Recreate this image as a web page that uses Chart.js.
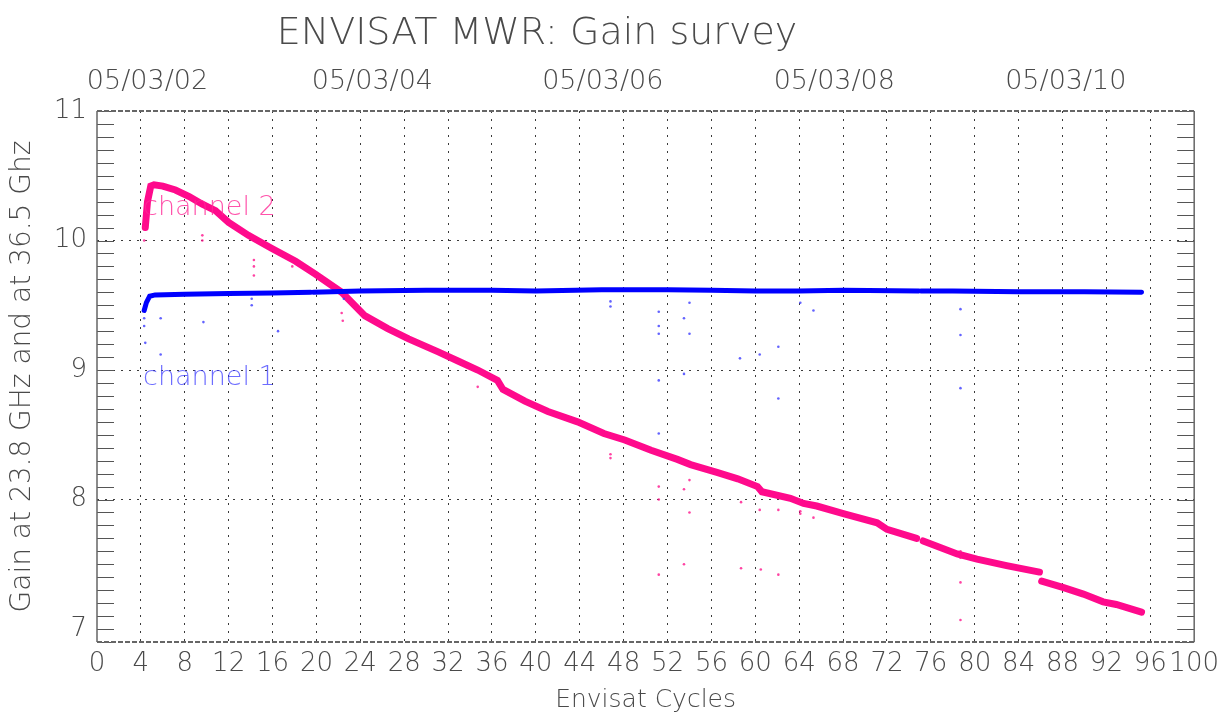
<!DOCTYPE html>
<html>
<head>
<meta charset="utf-8">
<title>ENVISAT MWR: Gain survey</title>
<script src="https://cdn.jsdelivr.net/npm/chart.js@4.4.1/dist/chart.umd.min.js"></script>
<style>
  html, body { margin: 0; padding: 0; background: #fff; }
  #gainChart { display: block; }
</style>
</head>
<body>
<canvas id="gainChart" width="1226" height="716"></canvas>
<script>
// channel 2 (36.5 GHz), main trace, null = missing cycles
var ch2Cycle = [4.4, 4.6, 4.9, 5.2, 6.0, 7.15, 8.4, 9.6, 10.8, 12.0, 13.8, 15.9, 18.1, 19.9, 22.3, 24.4, 26.5, 28.4, 31.1, 32.9, 34.7, 36.5, 37.0, 39.0, 41.1, 43.8, 46.2, 48.1, 50.5, 52.9, 54.1, 56.5, 58.4, 60.2, 60.6, 63.2, 64.4, 65.6, 68.1, 71.1, 72.0, 74.7, 75.0, 75.3, 78.4, 80.2, 82.9, 85.9, 86.0, 86.1, 88.1, 89.9, 91.7, 92.9, 95.2];
var ch2Gain = [10.10, 10.30, 10.42, 10.43, 10.42, 10.39, 10.34, 10.28, 10.23, 10.14, 10.04, 9.94, 9.84, 9.74, 9.60, 9.42, 9.32, 9.24, 9.14, 9.07, 9.00, 8.92, 8.85, 8.76, 8.68, 8.60, 8.51, 8.46, 8.38, 8.31, 8.27, 8.21, 8.16, 8.10, 8.06, 8.01, 7.97, 7.95, 7.89, 7.82, 7.77, 7.70, null, 7.68, 7.58, 7.54, 7.49, 7.44, null, 7.37, 7.32, 7.27, 7.21, 7.19, 7.13];

// channel 1 (23.8 GHz), main trace
var ch1Cycle = [4.3, 4.5, 4.8, 5.3, 8.0, 12.0, 16.0, 19.5, 19.6, 19.7, 24.0, 30.0, 36.0, 40.0, 46.0, 52.0, 56.0, 60.0, 64.0, 68.0, 74.9, 75.0, 75.1, 78.0, 84.0, 90.0, 95.2];
var ch1Gain = [9.46, 9.52, 9.57, 9.58, 9.585, 9.59, 9.595, 9.60, null, 9.60, 9.61, 9.615, 9.615, 9.61, 9.62, 9.62, 9.615, 9.61, 9.61, 9.615, 9.61, null, 9.61, 9.61, 9.605, 9.605, 9.60];

// isolated outlier samples
var ch1OutCycle = [4.3, 4.3, 4.4, 5.8, 5.8, 9.7, 14.1, 14.1, 16.5, 22.5, 46.8, 46.8, 51.2, 51.2, 51.2, 51.2, 51.2, 53.5, 54.0, 53.5, 54.0, 58.6, 60.4, 62.1, 62.1, 65.3, 64.1, 78.7, 78.7, 78.7];
var ch1OutGain = [9.40, 9.34, 9.21, 9.40, 9.12, 9.37, 9.55, 9.50, 9.30, 9.55, 9.49, 9.53, 9.45, 9.34, 9.28, 8.92, 8.51, 9.40, 9.28, 8.97, 9.52, 9.09, 9.12, 9.18, 8.78, 9.46, 9.52, 9.47, 9.27, 8.86];
var ch2OutCycle = [4.3, 4.3, 9.6, 9.6, 14.3, 14.3, 14.3, 17.8, 22.3, 22.4, 34.7, 46.8, 46.8, 51.2, 51.2, 53.5, 54.0, 54.0, 58.7, 60.4, 62.1, 64.1, 65.3, 64.1, 51.2, 53.5, 58.7, 60.5, 62.1, 78.7, 78.7, 78.7, 78.7];
var ch2OutGain = [10.10, 10.00, 10.04, 10.00, 9.85, 9.80, 9.73, 9.80, 9.44, 9.38, 8.87, 8.35, 8.32, 8.10, 8.00, 8.08, 8.15, 7.90, 7.98, 7.92, 7.92, 7.91, 7.86, 7.89, 7.42, 7.50, 7.47, 7.46, 7.42, 7.60, 7.55, 7.36, 7.07];

// axes
var yTicks = [7, 8, 9, 10, 11];
var dateCycles = [4.6, 25.1, 46.1, 67.2, 88.3];
var dateLabels = ['05/03/02', '05/03/04', '05/03/06', '05/03/08', '05/03/10'];

var PINK = '#ff0a8c';
var BLUE = '#0000ff';
var AXIS = '#4a4a4a';
var FONT = 'DejaVu Sans';
var WEIGHT = '200';

function toPoints(xs, ys) {
    var pts = [];
    for (var i = 0; i < xs.length; i++) {
        pts.push({x: xs[i], y: ys[i]});
    }
    return pts;
}

// frame, minor ticks, title and in-plot labels
var decor = {
    id: 'decor',
    afterDatasetsDraw: function (chart) {
        var ctx = chart.ctx;
        var a = chart.chartArea;
        var y = chart.scales.y;
        ctx.save();
        ctx.strokeStyle = '#555';
        ctx.lineWidth = 1;
        for (var i = 69; i <= 110; i++) {
            var py = Math.round(y.getPixelForValue(i / 10)) + 0.5;
            ctx.beginPath();
            ctx.moveTo(a.left, py);
            ctx.lineTo(a.left + 17, py);
            ctx.moveTo(a.right, py);
            ctx.lineTo(a.right - 17, py);
            ctx.stroke();
        }
        ctx.strokeStyle = '#666';
        ctx.lineWidth = 1.5;
        ctx.beginPath();
        ctx.moveTo(a.left, a.top);
        ctx.lineTo(a.left, a.bottom);
        ctx.moveTo(a.right, a.top);
        ctx.lineTo(a.right, a.bottom);
        ctx.stroke();
        ctx.setLineDash([5, 2]);
        ctx.lineWidth = 2;
        ctx.beginPath();
        ctx.moveTo(a.left, a.top);
        ctx.lineTo(a.right, a.top);
        ctx.moveTo(a.left, a.bottom);
        ctx.lineTo(a.right, a.bottom);
        ctx.stroke();
        ctx.restore();
    },
    afterDraw: function (chart) {
        var ctx = chart.ctx;
        var x = chart.scales.x;
        var y = chart.scales.y;
        ctx.save();
        ctx.fillStyle = AXIS;
        ctx.font = WEIGHT + ' 38px "' + FONT + '"';
        ctx.textAlign = 'center';
        ctx.textBaseline = 'middle';
        ctx.fillText('ENVISAT MWR: Gain survey', 537, 34);

        ctx.font = WEIGHT + ' 27px "' + FONT + '"';
        ctx.textAlign = 'left';
        ctx.fillStyle = 'rgba(255, 40, 150, 0.8)';
        ctx.fillText('channel 2', x.getPixelForValue(4.2), y.getPixelForValue(10.25));
        ctx.fillStyle = 'rgba(60, 60, 255, 0.75)';
        ctx.fillText('channel 1', x.getPixelForValue(4.2), y.getPixelForValue(8.94));
        ctx.restore();
    }
};

var ctx = document.getElementById('gainChart');
var gainChart = new Chart(ctx, {
    type: 'line',
    data: {
        datasets: [
            {
                label: 'channel 1 outliers',
                type: 'scatter',
                data: toPoints(ch1OutCycle, ch1OutGain),
                backgroundColor: 'rgba(60, 60, 255, 0.8)',
                borderWidth: 0,
                pointRadius: 1.3
            },
            {
                label: 'channel 2 outliers',
                type: 'scatter',
                data: toPoints(ch2OutCycle, ch2OutGain),
                backgroundColor: 'rgba(255, 20, 140, 0.8)',
                borderWidth: 0,
                pointRadius: 1.3
            },
            {
                label: 'channel 1',
                data: toPoints(ch1Cycle, ch1Gain),
                borderColor: BLUE,
                borderWidth: 5,
                pointRadius: 0,
                borderCapStyle: 'round',
                spanGaps: false,
                tension: 0
            },
            {
                label: 'channel 2',
                data: toPoints(ch2Cycle, ch2Gain),
                borderColor: PINK,
                borderWidth: 7,
                pointRadius: 0,
                borderCapStyle: 'round',
                spanGaps: false,
                tension: 0
            }
        ]
    },
    options: {
        responsive: false,
        animation: false,
        devicePixelRatio: 1,
        layout: {padding: {left: 0, right: 28, top: 0, bottom: 0}},
        plugins: {
            legend: {display: false},
            tooltip: {enabled: false}
        },
        scales: {
            x: {
                type: 'linear',
                position: 'bottom',
                min: 0,
                max: 100,
                ticks: {
                    stepSize: 4,
                    autoSkip: false,
                    maxRotation: 0,
                    padding: 7,
                    color: AXIS,
                    font: {family: FONT, size: 26, weight: WEIGHT}
                },
                grid: {
                    drawTicks: false,
                    lineWidth: 1,
                    color: function (c) {
                        if (c.tick && (c.tick.value === 0 || c.tick.value === 100)) return 'rgba(0,0,0,0)';
                        return '#3a3a3a';
                    }
                },
                border: {display: false, dash: [2, 6]},
                title: {
                    display: true,
                    text: 'Envisat Cycles',
                    color: AXIS,
                    font: {family: FONT, size: 25, weight: WEIGHT},
                    padding: {top: 0, bottom: 1}
                },
                afterFit: function (s) { s.height = 74; }
            },
            x2: {
                type: 'linear',
                position: 'top',
                min: 0,
                max: 100,
                afterBuildTicks: function (s) {
                    s.ticks = dateCycles.map(function (v) { return {value: v}; });
                },
                ticks: {
                    autoSkip: false,
                    maxRotation: 0,
                    padding: 13,
                    color: AXIS,
                    font: {family: FONT, size: 27, weight: WEIGHT},
                    callback: function (v, i) { return dateLabels[i]; }
                },
                grid: {display: false, drawTicks: false},
                border: {display: false},
                afterFit: function (s) { s.height = 111; }
            },
            y: {
                type: 'linear',
                position: 'left',
                min: 6.9,
                max: 11,
                afterBuildTicks: function (s) {
                    s.ticks = yTicks.map(function (v) { return {value: v}; });
                },
                ticks: {
                    padding: 10,
                    color: AXIS,
                    font: {family: FONT, size: 26, weight: WEIGHT}
                },
                grid: {
                    drawTicks: false,
                    lineWidth: 1,
                    color: function (c) {
                        if (c.tick && c.tick.value > 7 && c.tick.value < 11) return '#3a3a3a';
                        return 'rgba(0,0,0,0)';
                    }
                },
                border: {display: false, dash: [2, 6]},
                title: {
                    display: true,
                    text: 'Gain at 23.8 GHz and at 36.5 Ghz',
                    color: AXIS,
                    font: {family: FONT, size: 28, weight: WEIGHT},
                    padding: {top: 6, bottom: 0}
                },
                afterFit: function (s) { s.width = 97; }
            }
        }
    },
    plugins: [decor]
});
</script>
</body>
</html>
